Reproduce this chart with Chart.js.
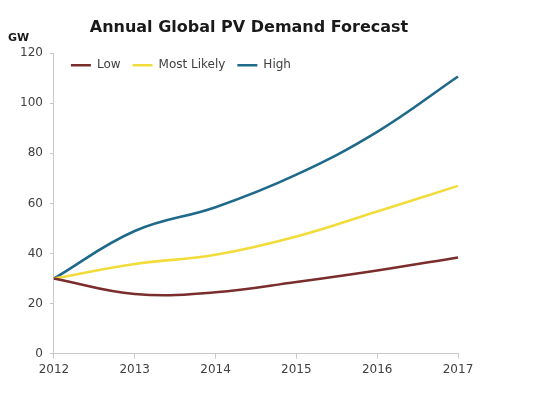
<!DOCTYPE html>
<html>
<head>
<meta charset="utf-8">
<script src="https://cdn.jsdelivr.net/npm/chart.js@4/dist/chart.umd.min.js"></script>
<style>
  html, body { margin: 0; padding: 0; background: #fff; }
  #wrap { width: 545px; height: 398px; }
</style>
</head>
<body>
<div id="wrap"><canvas id="chart" width="545" height="398"></canvas></div>
<script>
const years = ['2012', '2013', '2014', '2015', '2016', '2017'];
const low = [30, 23.8, 24.5, 28.6, 33.2, 38.4];
const mostLikely = [30, 35.8, 39.5, 46.8, 56.8, 67];
const high = [30, 49, 58.5, 71.5, 88.6, 110.7];
const yTicks = [0, 20, 40, 60, 80, 100, 120];

const FONT = "'DejaVu Sans', Verdana, sans-serif";
const axisGrey = '#c8c8c8';
const textGrey = '#404040';

// legend inside the plot area (top-left) and title nudged right, as in the original
const placeBlocks = {
  id: 'placeBlocks',
  afterInit(chart) {
    const lg = chart.legend;
    const fit = lg.fit.bind(lg);
    lg.fit = () => {
      fit();
      lg._realHeight = lg.height;
      lg.height = 0;
    };
  },
  afterLayout(chart) {
    const lg = chart.legend;
    const area = chart.chartArea;
    lg.left = area.left + 5;
    lg.top = area.top - 6;
    lg.bottom = lg.top + lg._realHeight;
    const t = chart.titleBlock;
    t.left = 40;
    t.right = area.right;
  },
};

// unit label above the value axis
const unitLabel = {
  id: 'unitLabel',
  afterDraw(chart) {
    const ctx = chart.ctx;
    ctx.save();
    ctx.font = `bold 11px ${FONT}`;
    ctx.fillStyle = '#1a1a1a';
    ctx.textAlign = 'left';
    ctx.textBaseline = 'middle';
    ctx.fillText('GW', 8, chart.chartArea.top - 15);
    ctx.restore();
  },
};

const line = (label, data, color) => ({
  label,
  data,
  borderColor: color,
  backgroundColor: color,
  borderWidth: 2.6,
  pointRadius: 0,
  tension: 0.4,
  fill: false,
});

new Chart(document.getElementById('chart'), {
  type: 'line',
  data: {
    labels: years,
    datasets: [
      line('Low', low, '#7b2c2c'),
      line('Most Likely', mostLikely, '#f2dc3c'),
      line('High', high, '#1f6a8a'),
    ],
  },
  options: {
    responsive: false,
    animation: false,
    devicePixelRatio: 1,
    layout: { padding: { left: 13, right: 87, top: 9, bottom: 17 } },
    plugins: {
      title: {
        display: true,
        text: 'Annual Global PV Demand Forecast',
        color: '#1a1a1a',
        font: { family: FONT, size: 16, weight: 'bold' },
        padding: { top: 9, bottom: 16 },
      },
      legend: {
        position: 'top',
        align: 'start',
        labels: {
          usePointStyle: true,
          pointStyle: 'line',
          pointStyleWidth: 20,
          padding: 12,
          color: textGrey,
          font: { family: FONT, size: 12 },
        },
      },
      tooltip: { enabled: false },
    },
    scales: {
      x: {
        offset: false,
        grid: { display: true, drawOnChartArea: false, drawTicks: true, tickLength: 5, color: axisGrey },
        border: { color: axisGrey },
        ticks: { color: textGrey, padding: 4, maxRotation: 0, font: { family: FONT, size: 12 } },
      },
      y: {
        min: 0,
        max: 120,
        afterBuildTicks: (scale) => { scale.ticks = yTicks.map((v) => ({ value: v })); },
        grid: { display: true, drawOnChartArea: false, drawTicks: true, tickLength: 4, color: axisGrey },
        border: { color: axisGrey },
        ticks: { color: textGrey, padding: 7, font: { family: FONT, size: 12 } },
      },
    },
  },
  plugins: [placeBlocks, unitLabel],
});
</script>
</body>
</html>
